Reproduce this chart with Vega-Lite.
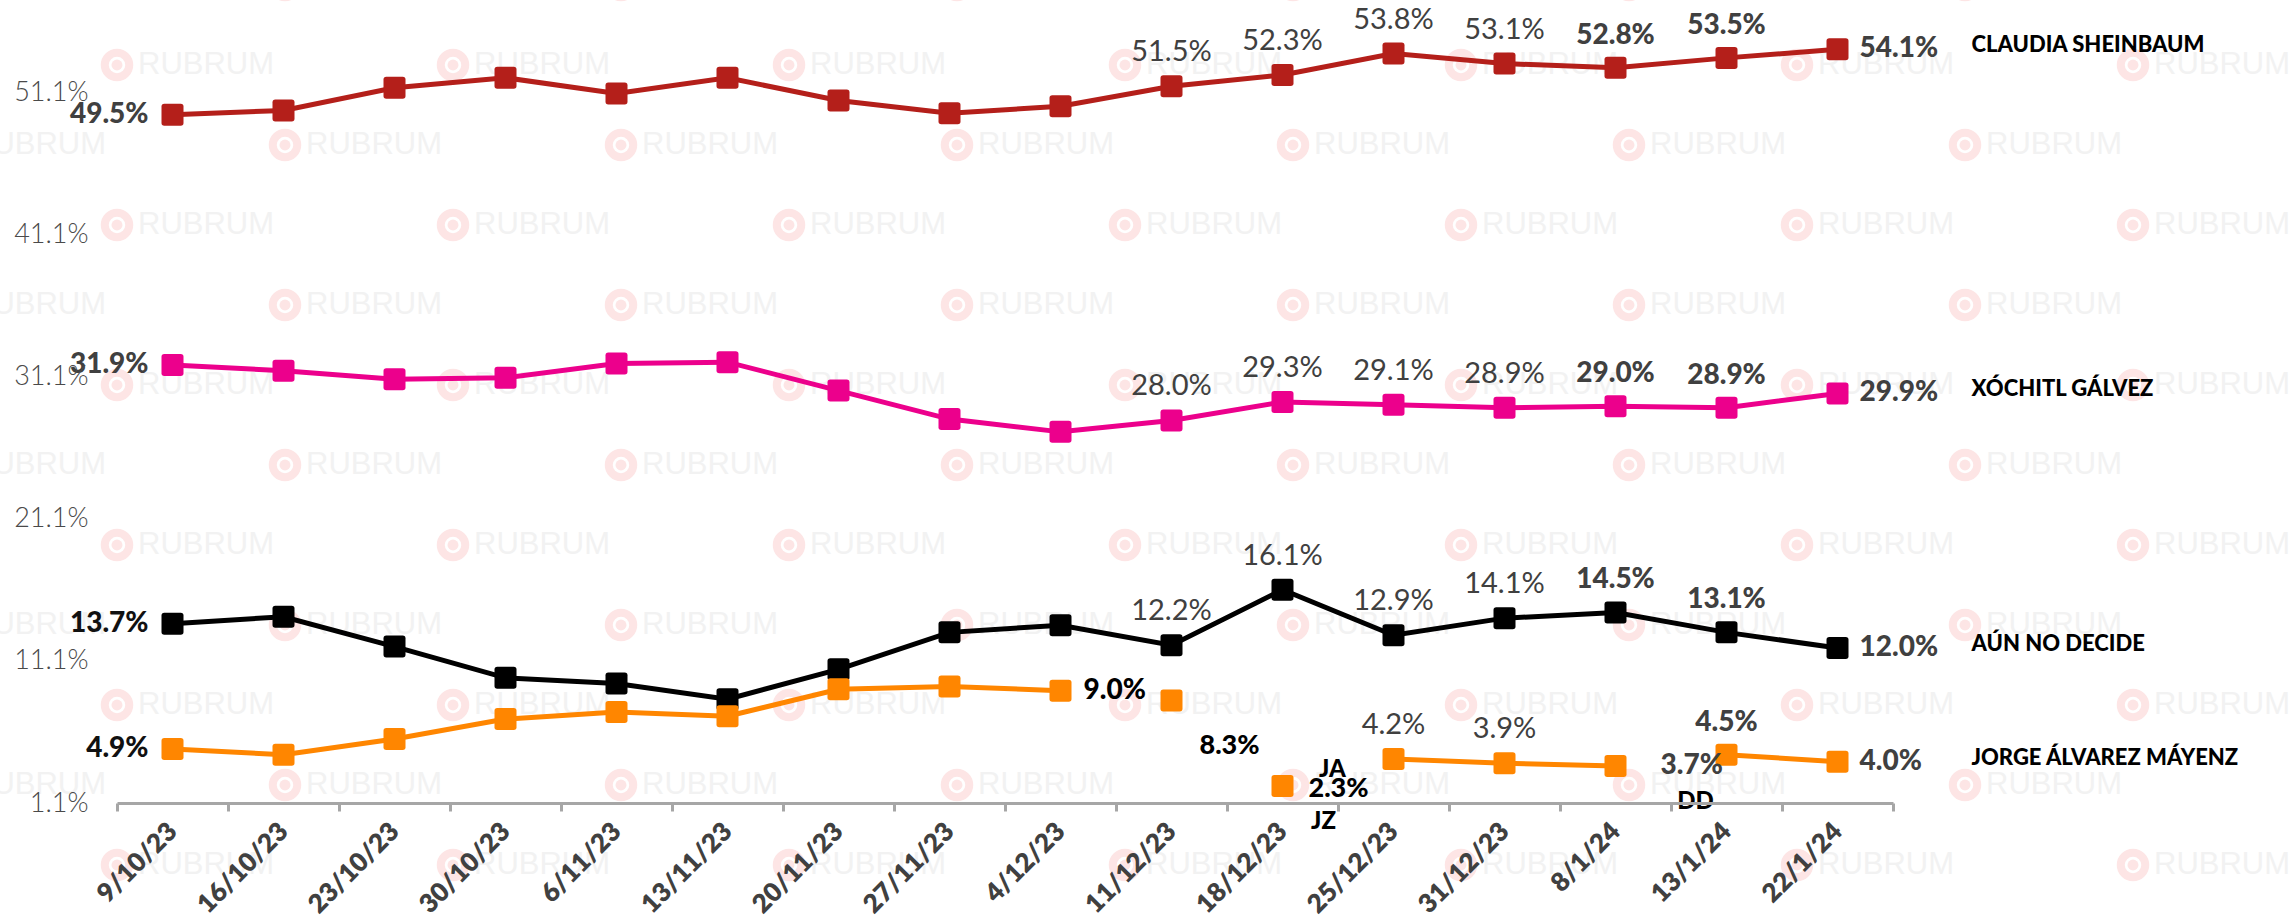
{
  "$schema": "https://vega.github.io/schema/vega-lite/v6.json",
  "autosize": {"type": "none"},
  "padding": {"left": 117, "top": 0, "right": 397, "bottom": 112},
  "width": 1776,
  "height": 803,
  "background": "white",
  "config": {"view": {"stroke": null}},
  "datasets": {
    "marca": [
      {"c": -0.5, "r": -1}, {"c": 0.5, "r": -1}, {"c": 1.5, "r": -1}, {"c": 2.5, "r": -1}, {"c": 3.5, "r": -1}, {"c": 4.5, "r": -1}, {"c": 5.5, "r": -1},
      {"c": 0, "r": 0}, {"c": 1, "r": 0}, {"c": 2, "r": 0}, {"c": 3, "r": 0}, {"c": 4, "r": 0}, {"c": 5, "r": 0}, {"c": 6, "r": 0},
      {"c": -0.5, "r": 1}, {"c": 0.5, "r": 1}, {"c": 1.5, "r": 1}, {"c": 2.5, "r": 1}, {"c": 3.5, "r": 1}, {"c": 4.5, "r": 1}, {"c": 5.5, "r": 1},
      {"c": 0, "r": 2}, {"c": 1, "r": 2}, {"c": 2, "r": 2}, {"c": 3, "r": 2}, {"c": 4, "r": 2}, {"c": 5, "r": 2}, {"c": 6, "r": 2},
      {"c": -0.5, "r": 3}, {"c": 0.5, "r": 3}, {"c": 1.5, "r": 3}, {"c": 2.5, "r": 3}, {"c": 3.5, "r": 3}, {"c": 4.5, "r": 3}, {"c": 5.5, "r": 3},
      {"c": 0, "r": 4}, {"c": 1, "r": 4}, {"c": 2, "r": 4}, {"c": 3, "r": 4}, {"c": 4, "r": 4}, {"c": 5, "r": 4}, {"c": 6, "r": 4},
      {"c": -0.5, "r": 5}, {"c": 0.5, "r": 5}, {"c": 1.5, "r": 5}, {"c": 2.5, "r": 5}, {"c": 3.5, "r": 5}, {"c": 4.5, "r": 5}, {"c": 5.5, "r": 5},
      {"c": 0, "r": 6}, {"c": 1, "r": 6}, {"c": 2, "r": 6}, {"c": 3, "r": 6}, {"c": 4, "r": 6}, {"c": 5, "r": 6}, {"c": 6, "r": 6},
      {"c": -0.5, "r": 7}, {"c": 0.5, "r": 7}, {"c": 1.5, "r": 7}, {"c": 2.5, "r": 7}, {"c": 3.5, "r": 7}, {"c": 4.5, "r": 7}, {"c": 5.5, "r": 7},
      {"c": 0, "r": 8}, {"c": 1, "r": 8}, {"c": 2, "r": 8}, {"c": 3, "r": 8}, {"c": 4, "r": 8}, {"c": 5, "r": 8}, {"c": 6, "r": 8},
      {"c": -0.5, "r": 9}, {"c": 0.5, "r": 9}, {"c": 1.5, "r": 9}, {"c": 2.5, "r": 9}, {"c": 3.5, "r": 9}, {"c": 4.5, "r": 9}, {"c": 5.5, "r": 9},
      {"c": 0, "r": 10}, {"c": 1, "r": 10}, {"c": 2, "r": 10}, {"c": 3, "r": 10}, {"c": 4, "r": 10}, {"c": 5, "r": 10}, {"c": 6, "r": 10}
    ],
    "encuesta": [
      {"fecha": "9/10/23", "serie": "CLAUDIA SHEINBAUM", "valor": 49.5, "tramo": "a"},
      {"fecha": "16/10/23", "serie": "CLAUDIA SHEINBAUM", "valor": 49.8, "tramo": "a"},
      {"fecha": "23/10/23", "serie": "CLAUDIA SHEINBAUM", "valor": 51.4, "tramo": "a"},
      {"fecha": "30/10/23", "serie": "CLAUDIA SHEINBAUM", "valor": 52.1, "tramo": "a"},
      {"fecha": "6/11/23", "serie": "CLAUDIA SHEINBAUM", "valor": 51.0, "tramo": "a"},
      {"fecha": "13/11/23", "serie": "CLAUDIA SHEINBAUM", "valor": 52.1, "tramo": "a"},
      {"fecha": "20/11/23", "serie": "CLAUDIA SHEINBAUM", "valor": 50.5, "tramo": "a"},
      {"fecha": "27/11/23", "serie": "CLAUDIA SHEINBAUM", "valor": 49.6, "tramo": "a"},
      {"fecha": "4/12/23", "serie": "CLAUDIA SHEINBAUM", "valor": 50.1, "tramo": "a"},
      {"fecha": "11/12/23", "serie": "CLAUDIA SHEINBAUM", "valor": 51.5, "tramo": "a"},
      {"fecha": "18/12/23", "serie": "CLAUDIA SHEINBAUM", "valor": 52.3, "tramo": "a"},
      {"fecha": "25/12/23", "serie": "CLAUDIA SHEINBAUM", "valor": 53.8, "tramo": "a"},
      {"fecha": "31/12/23", "serie": "CLAUDIA SHEINBAUM", "valor": 53.1, "tramo": "a"},
      {"fecha": "8/1/24", "serie": "CLAUDIA SHEINBAUM", "valor": 52.8, "tramo": "a"},
      {"fecha": "13/1/24", "serie": "CLAUDIA SHEINBAUM", "valor": 53.5, "tramo": "a"},
      {"fecha": "22/1/24", "serie": "CLAUDIA SHEINBAUM", "valor": 54.1, "tramo": "a"},
      {"fecha": "9/10/23", "serie": "XÓCHITL GÁLVEZ", "valor": 31.9, "tramo": "a"},
      {"fecha": "16/10/23", "serie": "XÓCHITL GÁLVEZ", "valor": 31.5, "tramo": "a"},
      {"fecha": "23/10/23", "serie": "XÓCHITL GÁLVEZ", "valor": 30.9, "tramo": "a"},
      {"fecha": "30/10/23", "serie": "XÓCHITL GÁLVEZ", "valor": 31.0, "tramo": "a"},
      {"fecha": "6/11/23", "serie": "XÓCHITL GÁLVEZ", "valor": 32.0, "tramo": "a"},
      {"fecha": "13/11/23", "serie": "XÓCHITL GÁLVEZ", "valor": 32.1, "tramo": "a"},
      {"fecha": "20/11/23", "serie": "XÓCHITL GÁLVEZ", "valor": 30.1, "tramo": "a"},
      {"fecha": "27/11/23", "serie": "XÓCHITL GÁLVEZ", "valor": 28.1, "tramo": "a"},
      {"fecha": "4/12/23", "serie": "XÓCHITL GÁLVEZ", "valor": 27.2, "tramo": "a"},
      {"fecha": "11/12/23", "serie": "XÓCHITL GÁLVEZ", "valor": 28.0, "tramo": "a"},
      {"fecha": "18/12/23", "serie": "XÓCHITL GÁLVEZ", "valor": 29.3, "tramo": "a"},
      {"fecha": "25/12/23", "serie": "XÓCHITL GÁLVEZ", "valor": 29.1, "tramo": "a"},
      {"fecha": "31/12/23", "serie": "XÓCHITL GÁLVEZ", "valor": 28.9, "tramo": "a"},
      {"fecha": "8/1/24", "serie": "XÓCHITL GÁLVEZ", "valor": 29.0, "tramo": "a"},
      {"fecha": "13/1/24", "serie": "XÓCHITL GÁLVEZ", "valor": 28.9, "tramo": "a"},
      {"fecha": "22/1/24", "serie": "XÓCHITL GÁLVEZ", "valor": 29.9, "tramo": "a"},
      {"fecha": "9/10/23", "serie": "AÚN NO DECIDE", "valor": 13.7, "tramo": "a"},
      {"fecha": "16/10/23", "serie": "AÚN NO DECIDE", "valor": 14.2, "tramo": "a"},
      {"fecha": "23/10/23", "serie": "AÚN NO DECIDE", "valor": 12.1, "tramo": "a"},
      {"fecha": "30/10/23", "serie": "AÚN NO DECIDE", "valor": 9.9, "tramo": "a"},
      {"fecha": "6/11/23", "serie": "AÚN NO DECIDE", "valor": 9.5, "tramo": "a"},
      {"fecha": "13/11/23", "serie": "AÚN NO DECIDE", "valor": 8.4, "tramo": "a"},
      {"fecha": "20/11/23", "serie": "AÚN NO DECIDE", "valor": 10.5, "tramo": "a"},
      {"fecha": "27/11/23", "serie": "AÚN NO DECIDE", "valor": 13.1, "tramo": "a"},
      {"fecha": "4/12/23", "serie": "AÚN NO DECIDE", "valor": 13.6, "tramo": "a"},
      {"fecha": "11/12/23", "serie": "AÚN NO DECIDE", "valor": 12.2, "tramo": "a"},
      {"fecha": "18/12/23", "serie": "AÚN NO DECIDE", "valor": 16.1, "tramo": "a"},
      {"fecha": "25/12/23", "serie": "AÚN NO DECIDE", "valor": 12.9, "tramo": "a"},
      {"fecha": "31/12/23", "serie": "AÚN NO DECIDE", "valor": 14.1, "tramo": "a"},
      {"fecha": "8/1/24", "serie": "AÚN NO DECIDE", "valor": 14.5, "tramo": "a"},
      {"fecha": "13/1/24", "serie": "AÚN NO DECIDE", "valor": 13.1, "tramo": "a"},
      {"fecha": "22/1/24", "serie": "AÚN NO DECIDE", "valor": 12.0, "tramo": "a"},
      {"fecha": "9/10/23", "serie": "JORGE ÁLVAREZ MÁYENZ", "valor": 4.9, "tramo": "a"},
      {"fecha": "16/10/23", "serie": "JORGE ÁLVAREZ MÁYENZ", "valor": 4.5, "tramo": "a"},
      {"fecha": "23/10/23", "serie": "JORGE ÁLVAREZ MÁYENZ", "valor": 5.6, "tramo": "a"},
      {"fecha": "30/10/23", "serie": "JORGE ÁLVAREZ MÁYENZ", "valor": 7.0, "tramo": "a"},
      {"fecha": "6/11/23", "serie": "JORGE ÁLVAREZ MÁYENZ", "valor": 7.5, "tramo": "a"},
      {"fecha": "13/11/23", "serie": "JORGE ÁLVAREZ MÁYENZ", "valor": 7.2, "tramo": "a"},
      {"fecha": "20/11/23", "serie": "JORGE ÁLVAREZ MÁYENZ", "valor": 9.1, "tramo": "a"},
      {"fecha": "27/11/23", "serie": "JORGE ÁLVAREZ MÁYENZ", "valor": 9.3, "tramo": "a"},
      {"fecha": "4/12/23", "serie": "JORGE ÁLVAREZ MÁYENZ", "valor": 9.0, "tramo": "a"},
      {"fecha": "11/12/23", "serie": "JORGE ÁLVAREZ MÁYENZ", "valor": 8.3, "tramo": "b"},
      {"fecha": "18/12/23", "serie": "JORGE ÁLVAREZ MÁYENZ", "valor": 2.3, "tramo": "c"},
      {"fecha": "25/12/23", "serie": "JORGE ÁLVAREZ MÁYENZ", "valor": 4.2, "tramo": "d"},
      {"fecha": "31/12/23", "serie": "JORGE ÁLVAREZ MÁYENZ", "valor": 3.9, "tramo": "d"},
      {"fecha": "8/1/24", "serie": "JORGE ÁLVAREZ MÁYENZ", "valor": 3.7, "tramo": "d"},
      {"fecha": "13/1/24", "serie": "JORGE ÁLVAREZ MÁYENZ", "valor": 4.5, "tramo": "e"},
      {"fecha": "22/1/24", "serie": "JORGE ÁLVAREZ MÁYENZ", "valor": 4.0, "tramo": "e"}
    ]
  },
  "resolve": {"scale": {"x": "independent", "y": "independent"}},
  "layer": [
    {
      "data": {"name": "marca"},
      "encoding": {
        "x": {"field": "c", "type": "quantitative", "scale": {"domain": [0, 5.2857], "nice": false, "zero": false}, "axis": null},
        "y": {"field": "r", "type": "quantitative", "scale": {"domain": [-0.8125, 9.225], "reverse": true, "nice": false, "zero": false}, "axis": null}
      },
      "layer": [
        {"mark": {"type": "point", "shape": "circle", "filled": false, "stroke": "#FDE5E5", "strokeWidth": 8, "size": 600, "opacity": 1}},
        {"mark": {"type": "point", "shape": "circle", "filled": true, "fill": "#FDE5E5", "size": 120, "opacity": 1}},
        {"mark": {"type": "text", "text": "RUBRUM", "font": "Liberation Sans", "fontSize": 31, "fill": "#F2F2F2", "align": "left", "baseline": "middle", "dx": 21}}
      ]
    },
    {
      "data": {"name": "encuesta"},
      "encoding": {
        "x": {
          "field": "fecha", "type": "ordinal",
          "scale": {"type": "band", "paddingInner": 0, "paddingOuter": 0,
            "domain": ["9/10/23","16/10/23","23/10/23","30/10/23","6/11/23","13/11/23","20/11/23","27/11/23","4/12/23","11/12/23","18/12/23","25/12/23","31/12/23","8/1/24","13/1/24","22/1/24"]},
          "axis": {"title": null, "zindex": 2, "labelAngle": -45, "labelAlign": "right", "labelBaseline": "middle", "labelFont": "Lato", "labelFontSize": 26, "labelFontWeight": 800, "labelColor": "#404040", "labelPadding": 16, "labelOverlap": false, "tickBand": "extent", "tickColor": "#A6A6A6", "tickSize": 8, "tickWidth": 3, "domainColor": "#A6A6A6", "domainWidth": 3, "grid": false}
        },
        "y": {
          "field": "valor", "type": "quantitative",
          "scale": {"domain": [1.1, 57.57], "nice": false, "zero": false},
          "axis": {"title": null, "zindex": 2, "values": [1.1, 11.1, 21.1, 31.1, 41.1, 51.1], "labelExpr": "format(datum.value, '.1f') + '%'", "domain": false, "ticks": false, "grid": false, "labelFont": "Lato", "labelFontSize": 27, "labelFontWeight": 300, "labelColor": "#4A4A4A", "labelPadding": 29, "labelBaseline": "middle"}
        }
      },
      "layer": [
        {
          "mark": {"type": "line", "strokeWidth": 5},
          "encoding": {
            "color": {"field": "serie", "type": "nominal", "legend": null,
              "scale": {"domain": ["CLAUDIA SHEINBAUM", "XÓCHITL GÁLVEZ", "AÚN NO DECIDE", "JORGE ÁLVAREZ MÁYENZ"], "range": ["#B41F1A", "#EC008C", "#000000", "#FF8600"]}},
            "detail": {"field": "tramo", "type": "nominal"}
          }
        },
        {
          "mark": {"type": "point", "filled": true, "opacity": 1, "size": 484, "shape": "M -1 -0.75 Q -1 -1 -0.75 -1 L 0.75 -1 Q 1 -1 1 -0.75 L 1 0.75 Q 1 1 0.75 1 L -0.75 1 Q -1 1 -1 0.75 Z"},
          "encoding": {
            "color": {"field": "serie", "type": "nominal", "legend": null,
              "scale": {"domain": ["CLAUDIA SHEINBAUM", "XÓCHITL GÁLVEZ", "AÚN NO DECIDE", "JORGE ÁLVAREZ MÁYENZ"], "range": ["#B41F1A", "#EC008C", "#000000", "#FF8600"]}}
          }
        },
        {
          "transform": [{"filter": "datum.fecha == '9/10/23' && (datum.serie == 'CLAUDIA SHEINBAUM' || datum.serie == 'XÓCHITL GÁLVEZ')"}],
          "mark": {"type": "text", "font": "Lato", "fontSize": 28, "fontWeight": 900, "fill": "#404040", "align": "right", "baseline": "middle", "dx": -24, "text": {"expr": "format(datum.valor, '.1f') + '%'"}}
        },
        {
          "transform": [{"filter": "datum.fecha == '9/10/23' && (datum.serie == 'AÚN NO DECIDE' || datum.serie == 'JORGE ÁLVAREZ MÁYENZ')"}],
          "mark": {"type": "text", "font": "Lato", "fontSize": 28, "fontWeight": 900, "fill": "#111111", "align": "right", "baseline": "middle", "dx": -24, "text": {"expr": "format(datum.valor, '.1f') + '%'"}}
        },
        {
          "transform": [{"filter": "datum.fecha == '22/1/24'"}],
          "mark": {"type": "text", "font": "Lato", "fontSize": 28, "fontWeight": 900, "fill": "#404040", "align": "left", "baseline": "middle", "dx": 22, "text": {"expr": "format(datum.valor, '.1f') + '%'"}}
        },
        {
          "transform": [{"filter": "datum.fecha == '22/1/24'"}],
          "mark": {"type": "text", "font": "Lato", "fontSize": 22, "fontWeight": 900, "fill": "#000000", "align": "left", "baseline": "middle", "dx": 134, "dy": -4, "text": {"expr": "datum.serie"}}
        },
        {
          "transform": [{"filter": "indexof(['11/12/23','18/12/23','25/12/23','31/12/23'], datum.fecha) >= 0 && !(datum.serie == 'JORGE ÁLVAREZ MÁYENZ' && (datum.fecha == '11/12/23' || datum.fecha == '18/12/23'))"}],
          "mark": {"type": "text", "font": "Lato", "fontSize": 29, "fontWeight": 400, "fill": "#404040", "align": "center", "baseline": "alphabetic", "dy": -25, "text": {"expr": "format(datum.valor, '.1f') + '%'"}}
        },
        {
          "transform": [{"filter": "indexof(['8/1/24','13/1/24'], datum.fecha) >= 0 && !(datum.serie == 'JORGE ÁLVAREZ MÁYENZ' && datum.fecha == '8/1/24')"}],
          "mark": {"type": "text", "font": "Lato", "fontSize": 28, "fontWeight": 900, "fill": "#404040", "align": "center", "baseline": "alphabetic", "dy": -24, "text": {"expr": "format(datum.valor, '.1f') + '%'"}}
        },
        {
          "transform": [{"filter": "datum.serie == 'JORGE ÁLVAREZ MÁYENZ' && datum.fecha == '4/12/23'"}],
          "mark": {"type": "text", "font": "Lato", "fontSize": 28, "fontWeight": 900, "fill": "#000000", "align": "left", "baseline": "middle", "dx": 23, "text": {"expr": "format(datum.valor, '.1f') + '%'"}}
        },
        {
          "transform": [{"filter": "datum.serie == 'JORGE ÁLVAREZ MÁYENZ' && datum.fecha == '11/12/23'"}],
          "mark": {"type": "text", "font": "Lato", "fontSize": 27, "fontWeight": 900, "fill": "#000000", "align": "center", "baseline": "middle", "dx": 58, "dy": 45, "text": {"expr": "format(datum.valor, '.1f') + '%'"}}
        },
        {
          "transform": [{"filter": "datum.serie == 'JORGE ÁLVAREZ MÁYENZ' && datum.fecha == '18/12/23'"}],
          "mark": {"type": "text", "font": "Lato", "fontSize": 27, "fontWeight": 900, "fill": "#000000", "align": "left", "baseline": "middle", "dx": 26, "dy": 3, "text": {"expr": "format(datum.valor, '.1f') + '%'"}}
        },
        {
          "transform": [{"filter": "datum.serie == 'JORGE ÁLVAREZ MÁYENZ' && datum.fecha == '8/1/24'"}],
          "mark": {"type": "text", "font": "Lato", "fontSize": 28, "fontWeight": 900, "fill": "#404040", "align": "left", "baseline": "middle", "dx": 45, "text": {"expr": "format(datum.valor, '.1f') + '%'"}}
        },
        {
          "transform": [{"filter": "datum.serie == 'JORGE ÁLVAREZ MÁYENZ' && datum.fecha == '18/12/23'"}],
          "mark": {"type": "text", "font": "Lato", "fontSize": 24, "fontWeight": 900, "fill": "#000000", "align": "center", "baseline": "middle", "dx": 50, "dy": -16, "text": "JA"}
        },
        {
          "transform": [{"filter": "datum.serie == 'JORGE ÁLVAREZ MÁYENZ' && datum.fecha == '18/12/23'"}],
          "mark": {"type": "text", "font": "Lato", "fontSize": 24, "fontWeight": 900, "fill": "#000000", "align": "center", "baseline": "middle", "dx": 41, "dy": 36, "text": "JZ"}
        },
        {
          "transform": [{"filter": "datum.serie == 'JORGE ÁLVAREZ MÁYENZ' && datum.fecha == '8/1/24'"}],
          "mark": {"type": "text", "font": "Lato", "fontSize": 24, "fontWeight": 900, "fill": "#000000", "align": "center", "baseline": "middle", "dx": 80, "dy": 36, "text": "DD"}
        }
      ]
    }
  ]
}
